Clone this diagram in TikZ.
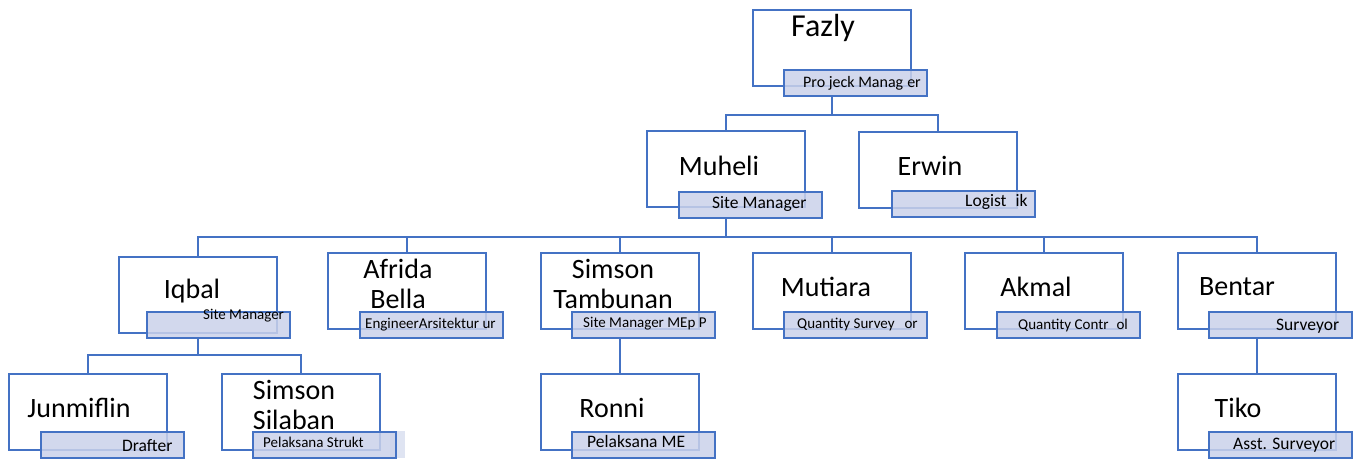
\documentclass[tikz,border=0pt]{standalone}
\usepackage{fontspec}
\setmainfont{Carlito}
\definecolor{lineblue}{HTML}{4472C4}
\definecolor{labfill}{HTML}{CBD2EA}
\begin{document}
\begin{tikzpicture}[x=1pt,y=-1pt,
  box/.style={draw=lineblue, line width=2pt, fill=white, minimum width=158pt, minimum height=76pt, inner sep=0pt},
  lab/.style={draw=lineblue, line width=2pt, fill=labfill, fill opacity=0.85, minimum width=143pt, minimum height=26pt, inner sep=0pt},
  conn/.style={draw=lineblue, line width=2pt},
  nm/.style={font=\fontsize{28}{30}\selectfont, inner sep=0pt, align=center},
  lt/.style={font=\fontsize{17.5}{18}\selectfont, inner sep=0pt, anchor=west},
  lts/.style={font=\fontsize{15}{16}\selectfont, inner sep=0pt, anchor=west}]
\useasboundingbox (0,0) rectangle (1355,459);
\fill[white] (0,0) rectangle (1355,459);

% bus coordinates
\coordinate (b1) at (832,115);
\coordinate (b2) at (726,237);
\coordinate (b3) at (198,355);

% connectors (drawn first, behind boxes)
\draw[conn] (832,96) -- (b1);
\draw[conn] (726,131) |- (b1) -| (938,132);
\draw[conn] (726,218) -- (b2);
\draw[conn] (198,257) |- (b2) -| (1257,253);
\draw[conn] (407,252) -- (407,237);
\draw[conn] (620,253) -- (620,237);
\draw[conn] (832,253) -- (832,237);
\draw[conn] (1044,253) -- (1044,237);
\draw[conn] (198,338) -- (b3);
\draw[conn] (88,373) |- (b3) -| (301,373);
\draw[conn] (620,338) -- (620,373);
\draw[conn] (1257,338) -- (1257,373);

% level 1
\node[box] (fazly) at (832,48) {};
\node[lab] (fazlyL) at (855.5,83) {};
\node[nm, font=\fontsize{32}{34}\selectfont] (fazlyT) at (823,28) {Fazly};
\node[lt, font=\fontsize{16}{17}\selectfont] (fazlyR) at (803,83) {Pro jeck Manag\hspace{4pt}er};

% level 2
\node[box] (muheli) at (726,169) {};
\node[lab] (muheliL) at (750,204.5) {};
\node[nm] (muheliT) at (719,166) {Muheli};
\node[lt] (muheliR) at (712,204) {Site Manager};

\node[box] (erwin) at (938,169.5) {};
\node[lab] (erwinL) at (963.5,204) {};
\node[nm] (erwinT) at (930,166) {Erwin};
\node[lt] (erwinR) at (965,202) {Logist\hspace{9pt}ik};

% level 3
\node[box] (iqbal) at (198,294.5) {};
\node[lab] (iqbalL) at (218.5,324.5) {};
\node[nm] (iqbalT) at (192,291) {Iqbal};
\node[lts] (iqbalR) at (203,316) {Site Manager};

\node[box] (afrida) at (407,290.5) {};
\node[lab] (afridaL) at (431,324.5) {};
\node[nm] (afridaT) at (398,284) {Afrida\\ Bella};
\node[lts] (afridaR) at (365,325) {EngineerArsitektur ur};

\node[box] (simsont) at (619.5,291) {};
\node[lab] (simsontL) at (643.5,324.5) {};
\node[nm] (simsontT) at (613,284) {Simson\\Tambunan};
\node[lts] (simsontR) at (583,324) {Site Manager MEp P};

\node[box] (mutiara) at (831.5,291) {};
\node[lab] (mutiaraL) at (855.5,324.5) {};
\node[nm] (mutiaraT) at (826,287) {Mutiara};
\node[lts] (mutiaraR) at (797,325) {Quantity Survey\hspace{10pt}or};

\node[box] (akmal) at (1043.5,291) {};
\node[lab] (akmalL) at (1068,324.5) {};
\node[nm] (akmalT) at (1036,287) {Akmal};
\node[lts] (akmalR) at (1018,325) {Quantity Contr\hspace{8pt}ol};

\node[box] (bentar) at (1256.5,291) {};
\node[lab] (bentarL) at (1280,324.5) {};
\node[nm] (bentarT) at (1237,287) {Bentar};
\node[lt] (bentarR) at (1276,326) {Surveyor};

% level 4
\node[box] (junmiflin) at (88,411.5) {};
\node[lab] (junmiflinL) at (112,444.5) {};
\node[nm] (junmiflinT) at (79,408) {Junmiflin};
\node[lt] (junmiflinR) at (122,446) {Drafter};

\node[box] (simsons) at (301,411.5) {};
\fill[labfill, opacity=0.6] (390,431) rectangle (405,458);
\node[lab] (simsonsL) at (324.5,444.5) {};
\node[nm, align=left] (simsonsT) at (294,405) {Simson\\Silaban};
\node[lts] (simsonsR) at (263,442) {Pelaksana Strukt};

\node[box] (ronni) at (619.5,411.5) {};
\node[lab] (ronniL) at (643.5,444.5) {};
\node[nm] (ronniT) at (612,408) {Ronni};
\node[lt] (ronniR) at (587,441) {Pelaksana ME};

\node[box] (tiko) at (1256.5,411.5) {};
\node[lab] (tikoL) at (1280,444.5) {};
\node[nm] (tikoT) at (1238,408) {Tiko};
\node[lt] (tikoR) at (1233,445) {Asst. Surveyor};
\end{tikzpicture}
\end{document}
